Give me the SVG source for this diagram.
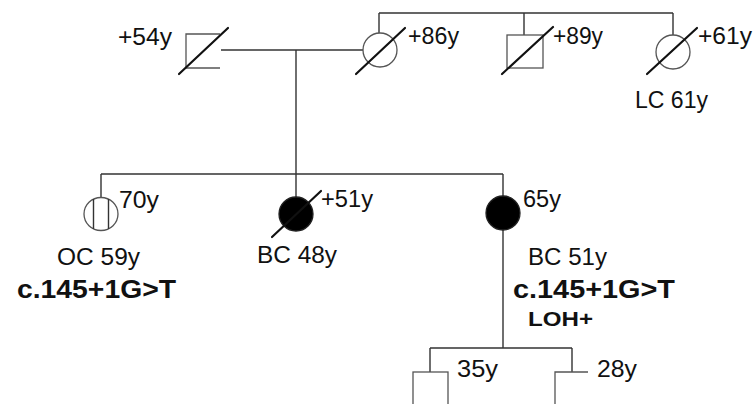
<svg xmlns="http://www.w3.org/2000/svg" width="756" height="404" viewBox="0 0 756 404">
<style>
.ln{fill:none;stroke:#333;stroke-width:1.4}
.sh{fill:#fff;stroke:#555;stroke-width:1.3}
.fl{fill:#000;stroke:#222;stroke-width:1.3}
.dx{stroke:#111;stroke-width:2.2;stroke-linecap:round}
text{font-family:"Liberation Sans",Arial,sans-serif;font-size:23px;fill:#111}
.b{font-weight:bold;font-size:25.5px}
</style>
<rect width="756" height="404" fill="#fff"/>
<g id="connectors">
<path class="ln" d="M221,50 H363"/>
<path class="ln" d="M296,50 V198"/>
<path class="ln" d="M379,13 V33 M379,13 H673 M524,13 V35 M673,13 V35"/>
<path class="ln" d="M101,174 H503 M101,174 V197 M503,174 V196"/>
<path class="ln" d="M503,230 V348 M430,348 H572 M430,348 V372 M572,348 V372"/>
</g>
<g id="gf">
<path class="sh" d="M220,34 H186 V68 H220"/>
<line class="dx" x1="179" y1="74" x2="228" y2="28"/>
<text x="118" y="45" textLength="54" lengthAdjust="spacingAndGlyphs">+54y</text>
</g>
<g id="gm">
<circle class="sh" cx="380" cy="50" r="17"/>
<line class="dx" x1="356" y1="74" x2="405" y2="28"/>
<text x="408" y="44" textLength="51" lengthAdjust="spacingAndGlyphs">+86y</text>
</g>
<g id="gu">
<rect class="sh" x="507" y="35" width="36" height="33"/>
<line class="dx" x1="502" y1="74" x2="553" y2="27"/>
<text x="553" y="44" textLength="50" lengthAdjust="spacingAndGlyphs">+89y</text>
</g>
<g id="ga">
<circle class="sh" cx="673" cy="52" r="17"/>
<line class="dx" x1="647" y1="74" x2="697" y2="28"/>
<text x="698" y="44" textLength="54" lengthAdjust="spacingAndGlyphs">+61y</text>
<text x="635" y="108" textLength="73" lengthAdjust="spacingAndGlyphs">LC 61y</text>
</g>
<g id="oc">
<ellipse class="sh" cx="101" cy="214" rx="17" ry="16.5"/>
<path class="ln" d="M93.5,199 V229 M108.5,199 V229" stroke="#555" stroke-width="1.2"/>
<text x="119" y="208" textLength="40" lengthAdjust="spacingAndGlyphs">70y</text>
<text x="57" y="265" textLength="83" lengthAdjust="spacingAndGlyphs">OC 59y</text>
<text class="b" x="17" y="298" textLength="159" lengthAdjust="spacingAndGlyphs">c.145+1G&gt;T</text>
</g>
<g id="bc48">
<circle class="fl" cx="296" cy="214" r="17"/>
<line class="dx" x1="272" y1="237" x2="321" y2="191"/>
<text x="321" y="207" textLength="52" lengthAdjust="spacingAndGlyphs">+51y</text>
<text x="257" y="263" textLength="80" lengthAdjust="spacingAndGlyphs">BC 48y</text>
</g>
<g id="bc51">
<circle class="fl" cx="503" cy="213" r="17"/>
<text x="523" y="207" textLength="38" lengthAdjust="spacingAndGlyphs">65y</text>
<text x="528" y="265" textLength="79" lengthAdjust="spacingAndGlyphs">BC 51y</text>
<text class="b" x="513" y="298" textLength="162" lengthAdjust="spacingAndGlyphs">c.145+1G&gt;T</text>
<text class="b" x="528" y="326" style="font-size:21px" textLength="65" lengthAdjust="spacingAndGlyphs">LOH+</text>
</g>
<g id="s35">
<rect class="sh" x="413" y="372" width="35" height="40"/>
<text x="457" y="377" textLength="41" lengthAdjust="spacingAndGlyphs">35y</text>
</g>
<g id="s28">
<path class="sh" d="M588,372 H555 V410"/>
<text x="597" y="377" textLength="40" lengthAdjust="spacingAndGlyphs">28y</text>
</g>
</svg>
